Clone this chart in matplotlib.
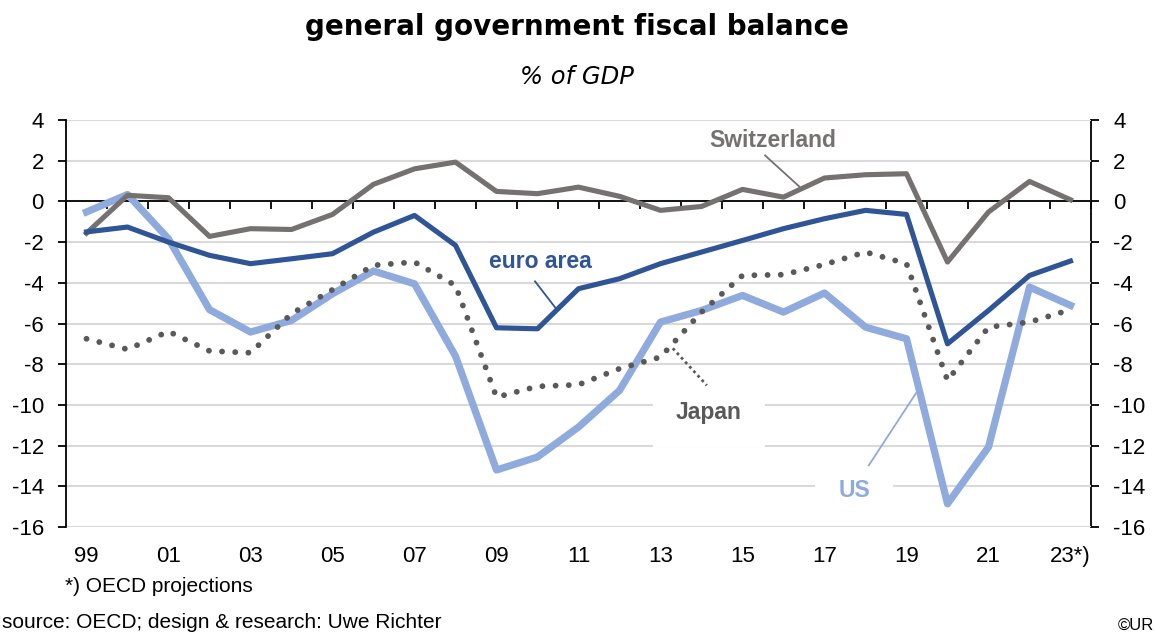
import matplotlib.pyplot as plt
import numpy as np

# data, general government fiscal balance in % of GDP
years = list(range(1999, 2024))
year_labels = ['99', '01', '03', '05', '07', '09', '11', '13', '15', '17', '19', '21', '23*)']

switzerland = [-1.56, 0.30, 0.18, -1.72, -1.34, -1.38, -0.64, 0.84, 1.60, 1.93,
               0.49, 0.38, 0.70, 0.25, -0.44, -0.25, 0.59, 0.21, 1.15, 1.31,
               1.36, -2.98, -0.52, 0.98, 0.08]
euro_area = [-1.50, -1.26, -2.00, -2.65, -3.06, -2.82, -2.57, -1.51, -0.69, -2.16,
             -6.21, -6.26, -4.29, -3.80, -3.06, -2.49, -1.92, -1.34, -0.85, -0.44,
             -0.64, -7.00, -5.36, -3.64, -2.93]
us = [-0.52, 0.34, -1.84, -5.32, -6.42, -5.85, -4.54, -3.42, -4.05, -7.60,
      -13.20, -12.56, -11.09, -9.29, -5.93, -5.36, -4.62, -5.44, -4.50, -6.18,
      -6.75, -14.86, -12.07, -4.21, -5.11]
japan = [-6.75, -7.27, -6.39, -7.35, -7.44, -5.52, -4.34, -3.14, -2.98, -4.13,
         -9.62, -9.09, -9.01, -8.22, -7.65, -5.44, -3.64, -3.60, -3.10, -2.49,
         -3.06, -8.80, -6.18, -5.93, -5.32]

c_ch = '#767171'
c_ea = '#2F5597'
c_us = '#8FAADC'
c_jp = '#595959'

plt.rcParams['font.family'] = ['Liberation Sans', 'DejaVu Sans']
plt.rcParams['axes.unicode_minus'] = False

fig = plt.figure(figsize=(11.54, 6.33), dpi=100)
ax = fig.add_axes([66 / 1154, 1 - 527 / 633, 1025 / 1154, 407 / 633])

x = np.arange(len(years))
ax.plot(x, us, color=c_us, lw=5.2, zorder=3)
ax.plot(x, switzerland, color=c_ch, lw=3.7, zorder=4)
ax.plot(x, euro_area, color=c_ea, lw=3.7, zorder=5)
ax.plot(x, japan, color=c_jp, lw=4.2, linestyle=(0, (0.01, 2.25)),
        dash_capstyle='round', zorder=6)

ax.set_xlim(-0.5, len(years) - 0.5)
ax.set_ylim(-16, 4)
yt = np.arange(-16, 5, 2)
ax.set_yticks(yt)
ax.grid(axis='y', color='#D9D9D9', lw=1.5, zorder=0)

# zero line carries the category ticks
ax.spines['top'].set_visible(False)
ax.spines['right'].set_visible(False)
ax.spines['bottom'].set_position(('data', 0))
for s in ['bottom', 'left']:
    ax.spines[s].set_color('black')
    ax.spines[s].set_linewidth(1.3)
    ax.spines[s].set_zorder(2)
ax.set_xticks([])
ax.set_xticks(np.arange(-0.5, len(years), 1), minor=True)
ax.tick_params(axis='x', which='minor', direction='out', length=6, width=1.3)
ax.tick_params(axis='y', direction='out', length=6, width=1.3, labelsize=16, pad=10)

sx = ax.secondary_xaxis('bottom')
sx.set_xticks(x[::2], year_labels)
sx.spines['bottom'].set_visible(False)
sx.tick_params(length=0, labelsize=16, pad=14)

sy = ax.secondary_yaxis('right')
sy.set_yticks(yt)
sy.spines['right'].set_linewidth(1.3)
sy.tick_params(direction='out', length=6, width=1.3, labelsize=16, pad=10)

# series labels with leader lines
ax.text(16.74, 3.0, 'Switzerland', color=c_ch, fontsize=16.5, fontweight='bold',
        ha='center', va='center')
ax.plot([16.55, 17.38], [2.26, 0.74], color=c_ch, lw=1.3, zorder=7)

ax.text(11.08, -2.95, 'euro area', color=c_ea, fontsize=16.5, fontweight='bold',
        ha='center', va='center')
ax.plot([10.94, 11.43], [-3.93, -5.21], color=c_ea, lw=1.3, zorder=7)

ax.text(15.18, -10.37, 'Japan', color=c_jp, fontsize=16.5, fontweight='bold',
        ha='center', va='center', zorder=2,
        bbox=dict(boxstyle='square,pad=1.0', fc='white', ec='none'))
ax.plot([14.3, 15.13], [-7.22, -9.04], color=c_jp, lw=2, linestyle=(0, (1, 1.2)), zorder=7)

ax.text(18.72, -14.2, 'US', color=c_us, fontsize=16.5, fontweight='bold',
        ha='center', va='center', zorder=2,
        bbox=dict(boxstyle='square,pad=1.0', fc='white', ec='none'))
ax.plot([20.23, 19.08], [-9.43, -12.97], color=c_us, lw=1.3, zorder=7)

fig.text(0.5, 1 - 27 / 633, 'general government fiscal balance', family='DejaVu Sans',
         fontsize=20, fontweight='bold', ha='center', va='center')
fig.text(0.5, 1 - 77 / 633, '% of GDP', family='DejaVu Sans', style='italic',
         fontsize=17.5, ha='center', va='center')

fig.text(65 / 1154, 1 - 586 / 633, '*) OECD projections', fontsize=15, va='center')
fig.text(2 / 1154, 1 - 622 / 633, 'source: OECD; design & research: Uwe Richter',
         fontsize=15, va='center')
fig.text(1118 / 1154, 1 - 625 / 633, '©UR', fontsize=12, va='center')

fig.savefig('out.png', dpi=100)
